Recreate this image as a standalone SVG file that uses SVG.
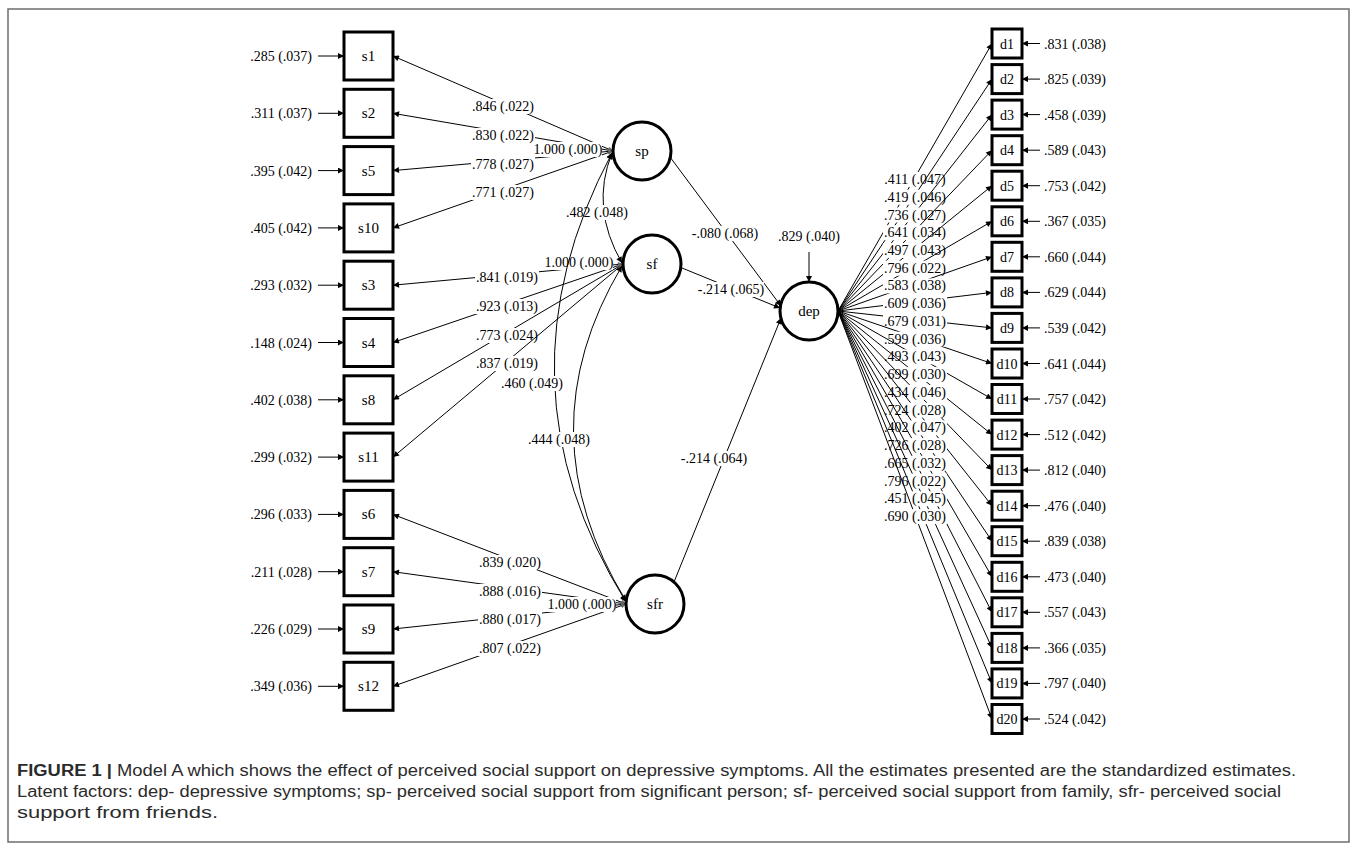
<svg xmlns="http://www.w3.org/2000/svg" width="1357" height="849" viewBox="0 0 1357 849">
<style>
.t{font-family:"Liberation Serif","Times New Roman",serif;font-size:14px;fill:#000}
.n{font-size:15px}
.m{text-anchor:middle}
.e{text-anchor:end}
.box{fill:#fff;stroke:#000;stroke-width:3}
.lv{fill:#fff;stroke:#000;stroke-width:3}
.ln{stroke:#000;stroke-width:1;fill:none}
.bg{fill:#fff}
.cap{font-family:"Liberation Sans Narrow","Liberation Sans",Arial,sans-serif;font-size:16px;fill:#2b2b2b}
</style>
<defs>
<marker id="ah" viewBox="0 0 10 10" refX="10" refY="5" markerWidth="8" markerHeight="6" markerUnits="userSpaceOnUse" orient="auto-start-reverse"><path d="M0,0L10,5L0,10z" fill="#000"/></marker>
<marker id="ahs" viewBox="0 0 10 10" refX="10" refY="5" markerWidth="7" markerHeight="5" markerUnits="userSpaceOnUse" orient="auto-start-reverse"><path d="M0,0L10,5L0,10z" fill="#666"/></marker>
</defs>
<rect x="8" y="9" width="1341" height="833" fill="none" stroke="#6e6e6e" stroke-width="1.5"/>
<g id="connectors">
<g class="ln" marker-end="url(#ah)">
<line x1="318" y1="56" x2="344" y2="56"/><line x1="318" y1="113.3" x2="344" y2="113.3"/><line x1="318" y1="170.6" x2="344" y2="170.6"/><line x1="318" y1="227.9" x2="344" y2="227.9"/><line x1="318" y1="285.2" x2="344" y2="285.2"/><line x1="318" y1="342.5" x2="344" y2="342.5"/><line x1="318" y1="399.8" x2="344" y2="399.8"/><line x1="318" y1="457.1" x2="344" y2="457.1"/><line x1="318" y1="514.4" x2="344" y2="514.4"/><line x1="318" y1="571.7" x2="344" y2="571.7"/><line x1="318" y1="629" x2="344" y2="629"/><line x1="318" y1="686.3" x2="344" y2="686.3"/>
</g>
<g class="t e">
<text x="312" y="61">.285 (.037)</text><text x="312" y="118.3">.311 (.037)</text><text x="312" y="175.6">.395 (.042)</text><text x="312" y="232.9">.405 (.042)</text><text x="312" y="290.2">.293 (.032)</text><text x="312" y="347.5">.148 (.024)</text><text x="312" y="404.8">.402 (.038)</text><text x="312" y="462.1">.299 (.032)</text><text x="312" y="519.4">.296 (.033)</text><text x="312" y="576.7">.211 (.028)</text><text x="312" y="634">.226 (.029)</text><text x="312" y="691.3">.349 (.036)</text>
</g>
<line class="ln" x1="613" y1="151" x2="393" y2="56" marker-end="url(#ah)" marker-start="url(#ahs)"/>
<rect class="bg" x="471" y="99" width="64" height="15"/><text class="t m" x="503" y="111">.846 (.022)</text>
<line class="ln" x1="613" y1="151" x2="393" y2="113.3" marker-end="url(#ah)" marker-start="url(#ahs)"/>
<rect class="bg" x="471" y="128" width="64" height="15"/><text class="t m" x="503" y="140">.830 (.022)</text>
<line class="ln" x1="613" y1="151" x2="393" y2="170.6" marker-end="url(#ah)" marker-start="url(#ahs)"/>
<rect class="bg" x="471" y="157" width="64" height="15"/><text class="t m" x="503" y="169">.778 (.027)</text>
<line class="ln" x1="613" y1="151" x2="393" y2="227.9" marker-end="url(#ah)" marker-start="url(#ahs)"/>
<rect class="bg" x="471" y="185" width="64" height="15"/><text class="t m" x="503" y="197">.771 (.027)</text>
<rect class="bg" x="534" y="142" width="68" height="15"/><text class="t m" x="568" y="154">1.000 (.000)</text>
<line class="ln" x1="623" y1="264" x2="393" y2="285.2" marker-end="url(#ah)" marker-start="url(#ahs)"/>
<rect class="bg" x="475" y="270" width="64" height="15"/><text class="t m" x="507" y="282">.841 (.019)</text>
<line class="ln" x1="623" y1="264" x2="393" y2="342.5" marker-end="url(#ah)" marker-start="url(#ahs)"/>
<rect class="bg" x="475" y="299" width="64" height="15"/><text class="t m" x="507" y="311">.923 (.013)</text>
<line class="ln" x1="623" y1="264" x2="393" y2="399.8" marker-end="url(#ah)" marker-start="url(#ahs)"/>
<rect class="bg" x="475" y="328" width="64" height="15"/><text class="t m" x="507" y="340">.773 (.024)</text>
<line class="ln" x1="623" y1="264" x2="393" y2="457.1" marker-end="url(#ah)" marker-start="url(#ahs)"/>
<rect class="bg" x="475" y="356" width="64" height="15"/><text class="t m" x="507" y="368">.837 (.019)</text>
<rect class="bg" x="545" y="255" width="68" height="15"/><text class="t m" x="579" y="267">1.000 (.000)</text>
<line class="ln" x1="626" y1="604" x2="393" y2="514.4" marker-end="url(#ah)" marker-start="url(#ahs)"/>
<rect class="bg" x="478" y="555" width="64" height="15"/><text class="t m" x="510" y="567">.839 (.020)</text>
<line class="ln" x1="626" y1="604" x2="393" y2="571.7" marker-end="url(#ah)" marker-start="url(#ahs)"/>
<rect class="bg" x="478" y="584" width="64" height="15"/><text class="t m" x="510" y="596">.888 (.016)</text>
<line class="ln" x1="626" y1="604" x2="393" y2="629" marker-end="url(#ah)" marker-start="url(#ahs)"/>
<rect class="bg" x="478" y="612" width="64" height="15"/><text class="t m" x="510" y="624">.880 (.017)</text>
<line class="ln" x1="626" y1="604" x2="393" y2="686.3" marker-end="url(#ah)" marker-start="url(#ahs)"/>
<rect class="bg" x="478" y="641" width="64" height="15"/><text class="t m" x="510" y="653">.807 (.022)</text>
<rect class="bg" x="548" y="597" width="68" height="15"/><text class="t m" x="582" y="609">1.000 (.000)</text>
<path class="ln" d="M612,153 Q590,208 622,263" marker-start="url(#ah)" marker-end="url(#ah)"/>
<rect class="bg" x="566" y="205" width="62" height="15"/><text class="t m" x="597" y="217">.482 (.048)</text>
<path class="ln" d="M612,153 Q490,382 626,602" marker-start="url(#ah)" marker-end="url(#ah)"/>
<rect class="bg" x="501" y="376" width="62" height="15"/><text class="t m" x="532" y="388">.460 (.049)</text>
<path class="ln" d="M622,266 Q523,432 626,601" marker-start="url(#ah)" marker-end="url(#ah)"/>
<rect class="bg" x="528" y="432" width="62" height="15"/><text class="t m" x="559" y="444">.444 (.048)</text>
<line class="ln" x1="670" y1="157" x2="781" y2="306" marker-end="url(#ah)"/>
<rect class="bg" x="692" y="226" width="66" height="15"/><text class="t m" x="725" y="238">-.080 (.068)</text>
<line class="ln" x1="682" y1="268" x2="780" y2="308" marker-end="url(#ah)"/>
<rect class="bg" x="698" y="282" width="66" height="15"/><text class="t m" x="731" y="294">-.214 (.065)</text>
<line class="ln" x1="674" y1="582" x2="781" y2="318" marker-end="url(#ah)"/>
<rect class="bg" x="681" y="451" width="66" height="15"/><text class="t m" x="714" y="463">-.214 (.064)</text>
<line class="ln" x1="809" y1="252" x2="809" y2="282" marker-end="url(#ah)"/>
<text class="t m" x="809" y="241">.829 (.040)</text>
<line class="ln" x1="838" y1="311" x2="992" y2="43.5" marker-end="url(#ah)"/>
<rect class="bg" x="883" y="172" width="64" height="15"/><text class="t m" x="915" y="184">.411 (.047)</text>
<line class="ln" x1="838" y1="311" x2="992" y2="79.1" marker-end="url(#ah)"/>
<rect class="bg" x="883" y="189.7" width="64" height="15"/><text class="t m" x="915" y="201.7">.419 (.046)</text>
<line class="ln" x1="838" y1="311" x2="992" y2="114.6" marker-end="url(#ah)"/>
<rect class="bg" x="883" y="207.5" width="64" height="15"/><text class="t m" x="915" y="219.5">.736 (.027)</text>
<line class="ln" x1="838" y1="311" x2="992" y2="150.2" marker-end="url(#ah)"/>
<rect class="bg" x="883" y="225.2" width="64" height="15"/><text class="t m" x="915" y="237.2">.641 (.034)</text>
<line class="ln" x1="838" y1="311" x2="992" y2="185.7" marker-end="url(#ah)"/>
<rect class="bg" x="883" y="243" width="64" height="15"/><text class="t m" x="915" y="255">.497 (.043)</text>
<line class="ln" x1="838" y1="311" x2="992" y2="221.3" marker-end="url(#ah)"/>
<rect class="bg" x="883" y="260.7" width="64" height="15"/><text class="t m" x="915" y="272.7">.796 (.022)</text>
<line class="ln" x1="838" y1="311" x2="992" y2="256.8" marker-end="url(#ah)"/>
<rect class="bg" x="883" y="278.4" width="64" height="15"/><text class="t m" x="915" y="290.4">.583 (.038)</text>
<line class="ln" x1="838" y1="311" x2="992" y2="292.4" marker-end="url(#ah)"/>
<rect class="bg" x="883" y="296.2" width="64" height="15"/><text class="t m" x="915" y="308.2">.609 (.036)</text>
<line class="ln" x1="838" y1="311" x2="992" y2="327.9" marker-end="url(#ah)"/>
<rect class="bg" x="883" y="313.9" width="64" height="15"/><text class="t m" x="915" y="325.9">.679 (.031)</text>
<line class="ln" x1="838" y1="311" x2="992" y2="363.5" marker-end="url(#ah)"/>
<rect class="bg" x="883" y="331.7" width="64" height="15"/><text class="t m" x="915" y="343.7">.599 (.036)</text>
<line class="ln" x1="838" y1="311" x2="992" y2="399" marker-end="url(#ah)"/>
<rect class="bg" x="883" y="349.4" width="64" height="15"/><text class="t m" x="915" y="361.4">.493 (.043)</text>
<line class="ln" x1="838" y1="311" x2="992" y2="434.6" marker-end="url(#ah)"/>
<rect class="bg" x="883" y="367.1" width="64" height="15"/><text class="t m" x="915" y="379.1">.699 (.030)</text>
<line class="ln" x1="838" y1="311" x2="992" y2="470.1" marker-end="url(#ah)"/>
<rect class="bg" x="883" y="384.9" width="64" height="15"/><text class="t m" x="915" y="396.9">.434 (.046)</text>
<line class="ln" x1="838" y1="311" x2="992" y2="505.7" marker-end="url(#ah)"/>
<rect class="bg" x="883" y="402.6" width="64" height="15"/><text class="t m" x="915" y="414.6">.724 (.028)</text>
<line class="ln" x1="838" y1="311" x2="992" y2="541.2" marker-end="url(#ah)"/>
<rect class="bg" x="883" y="420.4" width="64" height="15"/><text class="t m" x="915" y="432.4">.402 (.047)</text>
<line class="ln" x1="838" y1="311" x2="992" y2="576.8" marker-end="url(#ah)"/>
<rect class="bg" x="883" y="438.1" width="64" height="15"/><text class="t m" x="915" y="450.1">.726 (.028)</text>
<line class="ln" x1="838" y1="311" x2="992" y2="612.3" marker-end="url(#ah)"/>
<rect class="bg" x="883" y="455.8" width="64" height="15"/><text class="t m" x="915" y="467.8">.665 (.032)</text>
<line class="ln" x1="838" y1="311" x2="992" y2="647.9" marker-end="url(#ah)"/>
<rect class="bg" x="883" y="473.6" width="64" height="15"/><text class="t m" x="915" y="485.6">.796 (.022)</text>
<line class="ln" x1="838" y1="311" x2="992" y2="683.4" marker-end="url(#ah)"/>
<rect class="bg" x="883" y="491.3" width="64" height="15"/><text class="t m" x="915" y="503.3">.451 (.045)</text>
<line class="ln" x1="838" y1="311" x2="992" y2="719" marker-end="url(#ah)"/>
<rect class="bg" x="883" y="509.1" width="64" height="15"/><text class="t m" x="915" y="521.1">.690 (.030)</text>
<g class="ln" marker-end="url(#ah)">
<line x1="1040" y1="43.5" x2="1022" y2="43.5"/><line x1="1040" y1="79.1" x2="1022" y2="79.1"/><line x1="1040" y1="114.6" x2="1022" y2="114.6"/><line x1="1040" y1="150.2" x2="1022" y2="150.2"/><line x1="1040" y1="185.7" x2="1022" y2="185.7"/><line x1="1040" y1="221.3" x2="1022" y2="221.3"/><line x1="1040" y1="256.8" x2="1022" y2="256.8"/><line x1="1040" y1="292.4" x2="1022" y2="292.4"/><line x1="1040" y1="327.9" x2="1022" y2="327.9"/><line x1="1040" y1="363.5" x2="1022" y2="363.5"/><line x1="1040" y1="399" x2="1022" y2="399"/><line x1="1040" y1="434.6" x2="1022" y2="434.6"/><line x1="1040" y1="470.1" x2="1022" y2="470.1"/><line x1="1040" y1="505.7" x2="1022" y2="505.7"/><line x1="1040" y1="541.2" x2="1022" y2="541.2"/><line x1="1040" y1="576.8" x2="1022" y2="576.8"/><line x1="1040" y1="612.3" x2="1022" y2="612.3"/><line x1="1040" y1="647.9" x2="1022" y2="647.9"/><line x1="1040" y1="683.4" x2="1022" y2="683.4"/><line x1="1040" y1="719" x2="1022" y2="719"/>
</g>
<g class="t">
<text x="1044" y="48.5">.831 (.038)</text><text x="1044" y="84.1">.825 (.039)</text><text x="1044" y="119.6">.458 (.039)</text><text x="1044" y="155.2">.589 (.043)</text><text x="1044" y="190.7">.753 (.042)</text><text x="1044" y="226.3">.367 (.035)</text><text x="1044" y="261.8">.660 (.044)</text><text x="1044" y="297.4">.629 (.044)</text><text x="1044" y="332.9">.539 (.042)</text><text x="1044" y="368.5">.641 (.044)</text><text x="1044" y="404">.757 (.042)</text><text x="1044" y="439.6">.512 (.042)</text><text x="1044" y="475.1">.812 (.040)</text><text x="1044" y="510.7">.476 (.040)</text><text x="1044" y="546.2">.839 (.038)</text><text x="1044" y="581.8">.473 (.040)</text><text x="1044" y="617.3">.557 (.043)</text><text x="1044" y="652.9">.366 (.035)</text><text x="1044" y="688.4">.797 (.040)</text><text x="1044" y="724">.524 (.042)</text>
</g>
</g>
<g id="sp"><circle class="lv" cx="642" cy="151" r="29"/><text class="t n m" x="642" y="156">sp</text></g>
<g id="sf"><circle class="lv" cx="652" cy="264" r="29"/><text class="t n m" x="652" y="269">sf</text></g>
<g id="sfr"><circle class="lv" cx="655" cy="604" r="29"/><text class="t n m" x="655" y="609">sfr</text></g>
<g id="dep"><circle class="lv" cx="809" cy="311" r="29"/><text class="t n m" x="809" y="316">dep</text></g>
<g id="s1"><rect class="box" x="344" y="32" width="49" height="48"/><text class="t n m" x="368.5" y="61">s1</text></g>
<g id="s2"><rect class="box" x="344" y="89.3" width="49" height="48"/><text class="t n m" x="368.5" y="118.3">s2</text></g>
<g id="s5"><rect class="box" x="344" y="146.6" width="49" height="48"/><text class="t n m" x="368.5" y="175.6">s5</text></g>
<g id="s10"><rect class="box" x="344" y="203.9" width="49" height="48"/><text class="t n m" x="368.5" y="232.9">s10</text></g>
<g id="s3"><rect class="box" x="344" y="261.2" width="49" height="48"/><text class="t n m" x="368.5" y="290.2">s3</text></g>
<g id="s4"><rect class="box" x="344" y="318.5" width="49" height="48"/><text class="t n m" x="368.5" y="347.5">s4</text></g>
<g id="s8"><rect class="box" x="344" y="375.8" width="49" height="48"/><text class="t n m" x="368.5" y="404.8">s8</text></g>
<g id="s11"><rect class="box" x="344" y="433.1" width="49" height="48"/><text class="t n m" x="368.5" y="462.1">s11</text></g>
<g id="s6"><rect class="box" x="344" y="490.4" width="49" height="48"/><text class="t n m" x="368.5" y="519.4">s6</text></g>
<g id="s7"><rect class="box" x="344" y="547.7" width="49" height="48"/><text class="t n m" x="368.5" y="576.7">s7</text></g>
<g id="s9"><rect class="box" x="344" y="605" width="49" height="48"/><text class="t n m" x="368.5" y="634">s9</text></g>
<g id="s12"><rect class="box" x="344" y="662.3" width="49" height="48"/><text class="t n m" x="368.5" y="691.3">s12</text></g>
<g id="d1"><rect class="box" x="992" y="29" width="30" height="29"/><text class="t m" x="1007" y="48.5">d1</text></g>
<g id="d2"><rect class="box" x="992" y="64.6" width="30" height="29"/><text class="t m" x="1007" y="84.1">d2</text></g>
<g id="d3"><rect class="box" x="992" y="100.1" width="30" height="29"/><text class="t m" x="1007" y="119.6">d3</text></g>
<g id="d4"><rect class="box" x="992" y="135.7" width="30" height="29"/><text class="t m" x="1007" y="155.2">d4</text></g>
<g id="d5"><rect class="box" x="992" y="171.2" width="30" height="29"/><text class="t m" x="1007" y="190.7">d5</text></g>
<g id="d6"><rect class="box" x="992" y="206.8" width="30" height="29"/><text class="t m" x="1007" y="226.3">d6</text></g>
<g id="d7"><rect class="box" x="992" y="242.3" width="30" height="29"/><text class="t m" x="1007" y="261.8">d7</text></g>
<g id="d8"><rect class="box" x="992" y="277.9" width="30" height="29"/><text class="t m" x="1007" y="297.4">d8</text></g>
<g id="d9"><rect class="box" x="992" y="313.4" width="30" height="29"/><text class="t m" x="1007" y="332.9">d9</text></g>
<g id="d10"><rect class="box" x="992" y="349" width="30" height="29"/><text class="t m" x="1007" y="368.5">d10</text></g>
<g id="d11"><rect class="box" x="992" y="384.5" width="30" height="29"/><text class="t m" x="1007" y="404">d11</text></g>
<g id="d12"><rect class="box" x="992" y="420.1" width="30" height="29"/><text class="t m" x="1007" y="439.6">d12</text></g>
<g id="d13"><rect class="box" x="992" y="455.6" width="30" height="29"/><text class="t m" x="1007" y="475.1">d13</text></g>
<g id="d14"><rect class="box" x="992" y="491.2" width="30" height="29"/><text class="t m" x="1007" y="510.7">d14</text></g>
<g id="d15"><rect class="box" x="992" y="526.7" width="30" height="29"/><text class="t m" x="1007" y="546.2">d15</text></g>
<g id="d16"><rect class="box" x="992" y="562.3" width="30" height="29"/><text class="t m" x="1007" y="581.8">d16</text></g>
<g id="d17"><rect class="box" x="992" y="597.8" width="30" height="29"/><text class="t m" x="1007" y="617.3">d17</text></g>
<g id="d18"><rect class="box" x="992" y="633.4" width="30" height="29"/><text class="t m" x="1007" y="652.9">d18</text></g>
<g id="d19"><rect class="box" x="992" y="668.9" width="30" height="29"/><text class="t m" x="1007" y="688.4">d19</text></g>
<g id="d20"><rect class="box" x="992" y="704.5" width="30" height="29"/><text class="t m" x="1007" y="724">d20</text></g>
<g id="caption">
<text class="cap" x="17" y="776" textLength="1279" lengthAdjust="spacingAndGlyphs"><tspan font-weight="bold">FIGURE 1 |</tspan> Model A which shows the effect of perceived social support on depressive symptoms. All the estimates presented are the standardized estimates.</text>
<text class="cap" x="17" y="797" textLength="1264" lengthAdjust="spacingAndGlyphs">Latent factors: dep- depressive symptoms; sp- perceived social support from significant person; sf- perceived social support from family, sfr- perceived social</text>
<text class="cap" x="17" y="818" textLength="201" lengthAdjust="spacingAndGlyphs">support from friends.</text>
</g>
</svg>
